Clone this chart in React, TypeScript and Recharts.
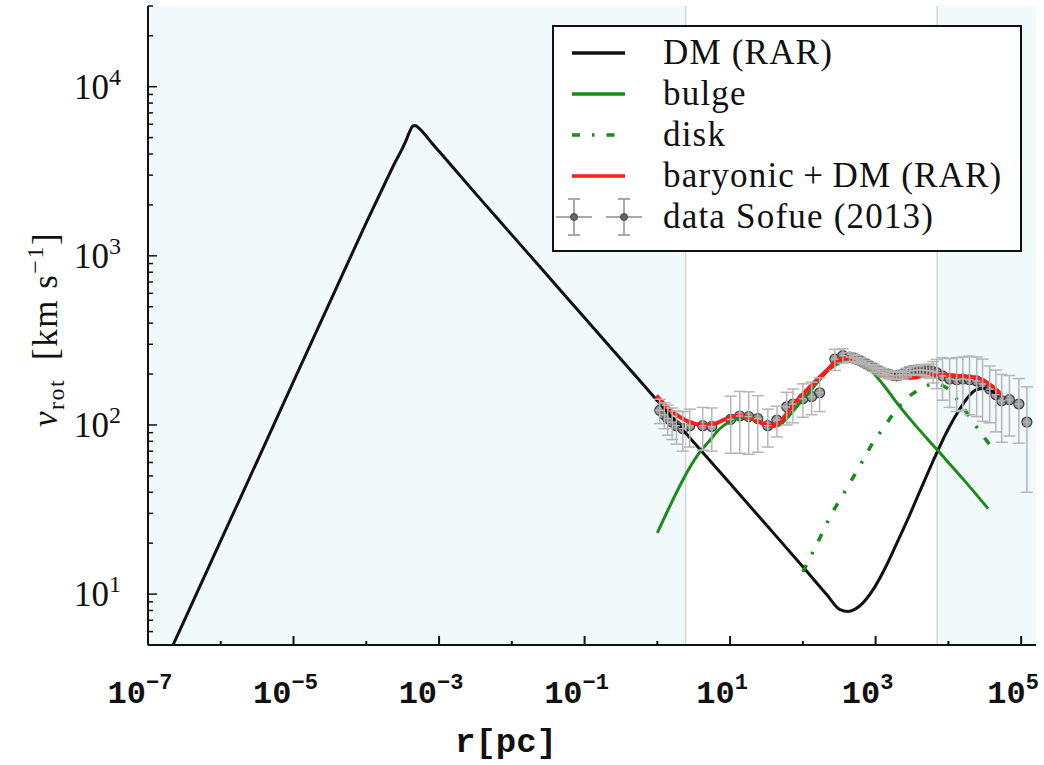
import React from 'react';
import {
  ComposedChart,
  Line,
  Scatter,
  ErrorBar,
  XAxis,
  YAxis,
  ReferenceArea,
  ReferenceLine,
  Legend,
} from 'recharts';

// dark matter (RAR) rotation curve: r [pc], v [km/s]
const dmR = [
  1e-7, 3.16e-7, 1e-6, 3.16e-6, 1e-5, 3.16e-5, 1e-4, 1.78e-4, 2.51e-4, 3.16e-4,
  3.55e-4, 3.89e-4, 4.17e-4, 4.47e-4, 4.79e-4, 5.25e-4, 6.31e-4, 7.94e-4, 1e-3, 3.16e-3,
  0.01, 0.0316, 0.1, 0.316, 1, 3.16, 10, 31.6, 100, 214,
  324, 417, 603, 933, 1413, 2000, 2951, 3981, 5012, 6918,
  10000, 14130, 19050, 24550, 31620, 39810, 50120,
];
const dmV = [
  2.38, 7.0, 20.7, 61, 181, 533, 1570, 2650, 3600, 4350,
  4850, 5350, 5700, 5900, 5880, 5700, 5250, 4650, 4150, 2340,
  1330, 757, 430, 245, 139, 79, 45, 25.6, 14.5, 9.9,
  8.1, 7.9, 8.5, 10.7, 14.8, 20.4, 29.5, 39.8, 50, 68.4,
  95, 123, 148, 162, 164, 158, 148,
];

// bulge component
const bulgeR = [
  1.0, 1.58, 2.79, 3.83, 5.25, 7.21, 10, 12.2, 15.1, 18.6,
  25.1, 31.6, 39.8, 50.1, 59.6, 79.4, 112, 158, 211, 282,
  398, 562, 828, 1259, 1936, 3162, 6871, 15850, 35160,
];
const bulgeV = [
  23, 35, 56, 69, 81, 95, 105, 110, 111, 109,
  103.5, 99, 98, 101, 109, 126, 149, 178, 205, 226,
  240, 237, 214, 174, 136, 105, 72, 48, 32,
];

// disk component
const diskR = [
  100, 158, 251, 398, 631, 925, 1259, 1742, 2661, 4055,
  5248, 6871, 8511, 10470, 12590, 15960, 21880, 30060, 43450,
];
const diskV = [
  13.5, 20, 30, 42, 59, 79, 95, 116, 143, 163,
  172, 175, 170, 160, 145, 127, 104, 86, 70,
];

// baryonic + DM total
const totalR = [
  0.97, 1.26, 1.64, 2.4, 3.45, 4.47, 5.85, 8.5, 12.2, 18.6,
  26.3, 35.2, 47.9, 66, 112, 211, 324, 398, 562, 925,
  1318, 1936, 3281, 5559, 9441, 15960, 24380, 37150, 53700,
];
const totalV = [
  149, 132, 119, 107, 101, 100, 101, 108, 113, 111,
  103.5, 99, 104, 124, 160, 209, 246, 248, 237, 217,
  195, 190, 190, 199, 198, 194, 190, 173, 151,
];

// Sofue (2013) observed rotation curve with errors
const obsR = [
  1.08, 1.25, 1.39, 1.6, 1.83, 2.24, 2.79, 4.2, 5.6, 10.2,
  13.6, 18, 24, 33, 44, 60, 73, 100, 132, 170,
  275, 355, 440, 490, 550, 600, 660, 740, 830, 930,
  1020, 1120, 1250, 1410, 1550, 1740, 1950, 2140, 2350, 2630,
  2950, 3310, 3700, 4070, 4500, 5010, 5550, 6170, 6900, 8300,
  10400, 13000, 15800, 19500, 24500, 29500, 37000, 45000, 54000, 69000,
  93000, 120000,
];
const obsV = [
  122, 115, 109, 104, 99, 95, 99, 99, 98, 108,
  113, 112, 109, 99, 107, 128, 133, 143, 147, 155,
  245, 257, 252, 249, 245, 240, 236, 230, 224, 218,
  214, 209, 205, 201, 199, 196, 195, 197, 199, 204,
  209, 210, 211, 212, 211, 210, 209, 207, 204, 195,
  187, 185, 187, 185, 182, 175, 163, 151, 139, 141,
  133, 104,
];
const obsDV = [
  20, 20, 22, 22, 22, 25, 25, 28, 28, 40,
  45, 45, 40, 25, 22, 28, 30, 32, 32, 35,
  35, 25, 15, 12, 12, 10, 10, 10, 10, 10,
  10, 10, 10, 10, 10, 10, 10, 10, 12, 12,
  12, 12, 12, 14, 15, 18, 20, 30, 40, 55,
  60, 65, 65, 70, 70, 70, 60, 60, 60, 55,
  55, 64,
];
const obsDR = [
  0.15, 0.15, 0.17, 0.2, 0.22, 0.27, 0.33, 0.5, 0.7, 1.2,
  1.6, 2.2, 2.9, 4, 5.3, 7, 9, 12, 16, 20,
  33, 43, 53, 59, 66, 72, 79, 89, 100, 112,
  122, 134, 150, 170, 186, 209, 234, 257, 282, 316,
  354, 397, 444, 488, 540, 601, 666, 740, 828, 996,
  1250, 1560, 1900, 2340, 2940, 3540, 4440, 5400, 6480, 8280,
  11200, 14400,
];

// solar-neighbourhood window (white band) bounds [pc]
const innerEdge = 2.45;
const outerEdge = 7000;

const xTicks = [1e-7, 1e-6, 1e-5, 1e-4, 1e-3, 0.01, 0.1, 1, 10, 100, 1000, 10000, 100000];
const yTicks = [
  5, 6, 7, 8, 9, 10, 20, 30, 40, 50, 60, 70, 80, 90,
  100, 200, 300, 400, 500, 600, 700, 800, 900,
  1000, 2000, 3000, 4000, 5000, 6000, 7000, 8000, 9000,
  10000, 20000, 30000,
];

const green = '#1a8a1a';
const red = '#ff1a1a';
const ink = '#111111';

const legendItems = [
  { label: 'DM (RAR)', color: ink, dash: undefined as string | undefined, kind: 'line' },
  { label: 'bulge', color: green, dash: undefined, kind: 'line' },
  { label: 'disk', color: green, dash: '8 12 2.5 12', kind: 'line' },
  { label: 'baryonic\u2009+\u2009DM (RAR)', color: red, dash: undefined, kind: 'line' },
  { label: 'data Sofue (2013)', color: '#666666', dash: undefined, kind: 'data' },
];

const zip = (r: number[], v: number[]) => r.map((x, i) => ({ r: x, v: v[i] }));
const dmData = zip(dmR, dmV);
const bulgeData = zip(bulgeR, bulgeV);
const diskData = zip(diskR, diskV);
const totalData = zip(totalR, totalV);
const obsData = obsR.map((x, i) => ({ r: x, v: obsV[i], dv: obsDV[i], dr: obsDR[i] }));

const serif = 'Liberation Serif, serif';
const mono = 'Liberation Mono, monospace';

const exponent = (v: number) => Math.round(Math.log10(v));
const isDecade = (v: number) => Math.abs(Math.log10(v) - exponent(v)) < 1e-6;
const expText = (e: number) => (e < 0 ? '\u2212' + -e : String(e));

const BottomTick = (props: any) => {
  const { x, y, payload } = props;
  const e = exponent(payload.value);
  const major = e % 2 !== 0;
  return (
    <g>
      <line x1={x} y1={y} x2={x} y2={y - (major ? 9 : 4)} stroke={ink} strokeWidth={2} />
      {major && (
        <text x={x - 8} y={y + 58} textAnchor="middle" fontFamily={mono} fontWeight="bold" fontSize={32} fill={ink}>
          10
          <tspan dy={-14} fontSize={22}>{expText(e)}</tspan>
        </text>
      )}
    </g>
  );
};

const TopTick = (props: any) => {
  const { x, y, payload } = props;
  const major = exponent(payload.value) % 2 !== 0;
  return <line x1={x} y1={y} x2={x} y2={y + (major ? 9 : 4)} stroke={ink} strokeWidth={2} />;
};

const LeftTick = (props: any) => {
  const { x, y, payload } = props;
  const major = isDecade(payload.value);
  return (
    <g>
      <line x1={x} y1={y} x2={x + (major ? 9 : 5)} y2={y} stroke={ink} strokeWidth={1.5} />
      {major && (
        <text x={x - 27} y={y + 12} textAnchor="end" fontFamily={serif} fontSize={35} fill={ink}>
          10
          <tspan dy={-14} fontSize={24}>{expText(exponent(payload.value))}</tspan>
        </text>
      )}
    </g>
  );
};

const RightTick = (props: any) => {
  const { x, y, payload } = props;
  const major = isDecade(payload.value);
  return <line x1={x} y1={y} x2={x - (major ? 9 : 5)} y2={y} stroke={ink} strokeWidth={1.5} />;
};

const YTitle = (props: any) => {
  const vb = props.viewBox || { x: 0, y: 6, height: 639 };
  const cx = vb.x + 57;
  const cy = vb.y + vb.height / 2 + 4;
  return (
    <text
      x={cx}
      y={cy}
      transform={`rotate(-90, ${cx}, ${cy})`}
      textAnchor="middle"
      fontFamily={serif}
      fontSize={35}
      letterSpacing={1.5}
      fill={ink}
    >
      <tspan fontStyle="italic">v</tspan>
      <tspan fontSize={24} dy={7}>rot</tspan>
      <tspan dy={-7}>{'\u2002[km s'}</tspan>
      <tspan fontSize={24} dy={-14}>{'\u22121'}</tspan>
      <tspan dy={14}>]</tspan>
    </text>
  );
};

const XTitle = (props: any) => {
  const vb = props.viewBox || { x: 148, y: 645 };
  return (
    <text x={vb.x + 358} y={vb.y + 107} textAnchor="middle" fontFamily={mono} fontWeight="bold" fontSize={34} fill={ink}>
      r[pc]
    </text>
  );
};

const DataMarker = ({ x }: { x: number }) => (
  <g>
    <line x1={x - 18} y1={20} x2={x + 18} y2={20} stroke="#aaaaaa" strokeWidth={2} />
    <line x1={x} y1={2} x2={x} y2={38} stroke="#aaaaaa" strokeWidth={2} />
    <line x1={x - 6} y1={2} x2={x + 6} y2={2} stroke="#aaaaaa" strokeWidth={2} />
    <line x1={x - 6} y1={38} x2={x + 6} y2={38} stroke="#aaaaaa" strokeWidth={2} />
    <circle cx={x} cy={20} r={3.5} fill="#666666" stroke="#444444" strokeWidth={1} />
  </g>
);

const LegendBox = () => (
  <div
    style={{
      position: 'relative',
      width: 470,
      height: 227,
      boxSizing: 'border-box',
      border: '2px solid #111',
      background: '#ffffff',
      fontFamily: serif,
      fontSize: 35,
      letterSpacing: 1.2,
      color: ink,
    }}
  >
    {legendItems.map((item, i) => (
      <div
        key={item.label}
        style={{ position: 'absolute', left: 0, top: 6 + i * 41, height: 40, display: 'flex', alignItems: 'center', whiteSpace: 'nowrap' }}
      >
        <svg width={109} height={40} style={{ flex: 'none' }}>
          {item.kind === 'line' ? (
            <line x1={18} y1={20} x2={71} y2={20} stroke={item.color} strokeWidth={3.5} strokeDasharray={item.dash} />
          ) : (
            <>
              <DataMarker x={20} />
              <DataMarker x={70} />
            </>
          )}
        </svg>
        <span>{item.label}</span>
      </div>
    ))}
  </div>
);

const axisLine = { stroke: ink, strokeWidth: 2 };

const RotationCurveChart: React.FC = () => (
  <ComposedChart width={1044} height={765} margin={{ top: 6, right: 8, bottom: 0, left: 0 }}>
    <XAxis
      xAxisId="b"
      dataKey="r"
      type="number"
      scale="log"
      domain={[1e-7, 1.6e5]}
      allowDataOverflow
      ticks={xTicks}
      interval={0}
      tickSize={0}
      tickMargin={0}
      tickLine={false}
      tick={<BottomTick />}
      axisLine={axisLine}
      height={120}
      label={<XTitle />}
    />
    <XAxis
      xAxisId="t"
      orientation="top"
      dataKey="r"
      type="number"
      scale="log"
      domain={[1e-7, 1.6e5]}
      allowDataOverflow
      ticks={xTicks}
      interval={0}
      tickSize={0}
      tickMargin={0}
      tickLine={false}
      tick={<TopTick />}
      axisLine={axisLine}
      height={0}
    />
    <YAxis
      yAxisId="l"
      dataKey="v"
      type="number"
      scale="log"
      domain={[5, 30000]}
      allowDataOverflow
      ticks={yTicks}
      interval={0}
      tickSize={0}
      tickMargin={0}
      tickLine={false}
      tick={<LeftTick />}
      axisLine={axisLine}
      width={148}
      label={<YTitle />}
    />
    <YAxis
      yAxisId="r"
      orientation="right"
      dataKey="v"
      type="number"
      scale="log"
      domain={[5, 30000]}
      allowDataOverflow
      ticks={yTicks}
      interval={0}
      tickSize={0}
      tickMargin={0}
      tickLine={false}
      tick={<RightTick />}
      axisLine={axisLine}
      width={0}
    />

    <ReferenceArea xAxisId="b" yAxisId="l" x1={1e-7} x2={innerEdge} fill="#f2f9fa" fillOpacity={1} stroke="none" />
    <ReferenceArea xAxisId="b" yAxisId="l" x1={outerEdge} x2={1.6e5} fill="#f2f9fa" fillOpacity={1} stroke="none" />
    <ReferenceLine xAxisId="b" yAxisId="l" x={innerEdge} stroke="#d6d6d6" strokeWidth={1.5} />
    <ReferenceLine xAxisId="b" yAxisId="l" x={outerEdge} stroke="#d6d6d6" strokeWidth={1.5} />

    <Scatter
      xAxisId="b"
      yAxisId="l"
      data={obsData}
      dataKey="v"
      isAnimationActive={false}
      zIndex={350}
      shape={(p: any) => (
        <circle cx={p.cx} cy={p.cy} r={5} fill="#707070" fillOpacity={0.7} stroke="#3a3a3a" strokeWidth={1.2} />
      )}
    >
      <ErrorBar dataKey="dv" direction="y" width={6} stroke="#b5b5b5" strokeWidth={1.5} />
      <ErrorBar dataKey="dr" direction="x" width={0} stroke="#b5b5b5" strokeWidth={1.5} />
    </Scatter>

    <Line xAxisId="b" yAxisId="l" data={dmData} dataKey="v" type="monotone" stroke={ink} strokeWidth={3} dot={false} isAnimationActive={false} />
    <Line xAxisId="b" yAxisId="l" data={bulgeData} dataKey="v" type="monotone" stroke={green} strokeWidth={3} dot={false} isAnimationActive={false} />
    <Line xAxisId="b" yAxisId="l" data={diskData} dataKey="v" type="monotone" stroke={green} strokeWidth={3.5} strokeDasharray="8 12 2.5 12" dot={false} isAnimationActive={false} />
    <Line xAxisId="b" yAxisId="l" data={totalData} dataKey="v" type="monotone" stroke={red} strokeWidth={4} dot={false} isAnimationActive={false} />

    <Legend
      layout="vertical"
      align="center"
      verticalAlign="middle"
      content={<LegendBox />}
      wrapperStyle={{ top: 25, left: 552, width: 470, height: 227 }}
    />
  </ComposedChart>
);

export default function App() {
  return (
    <div style={{ position: 'absolute', left: 0, top: 0, width: 1044, height: 765, background: '#ffffff' }}>
      <RotationCurveChart />
    </div>
  );
}
